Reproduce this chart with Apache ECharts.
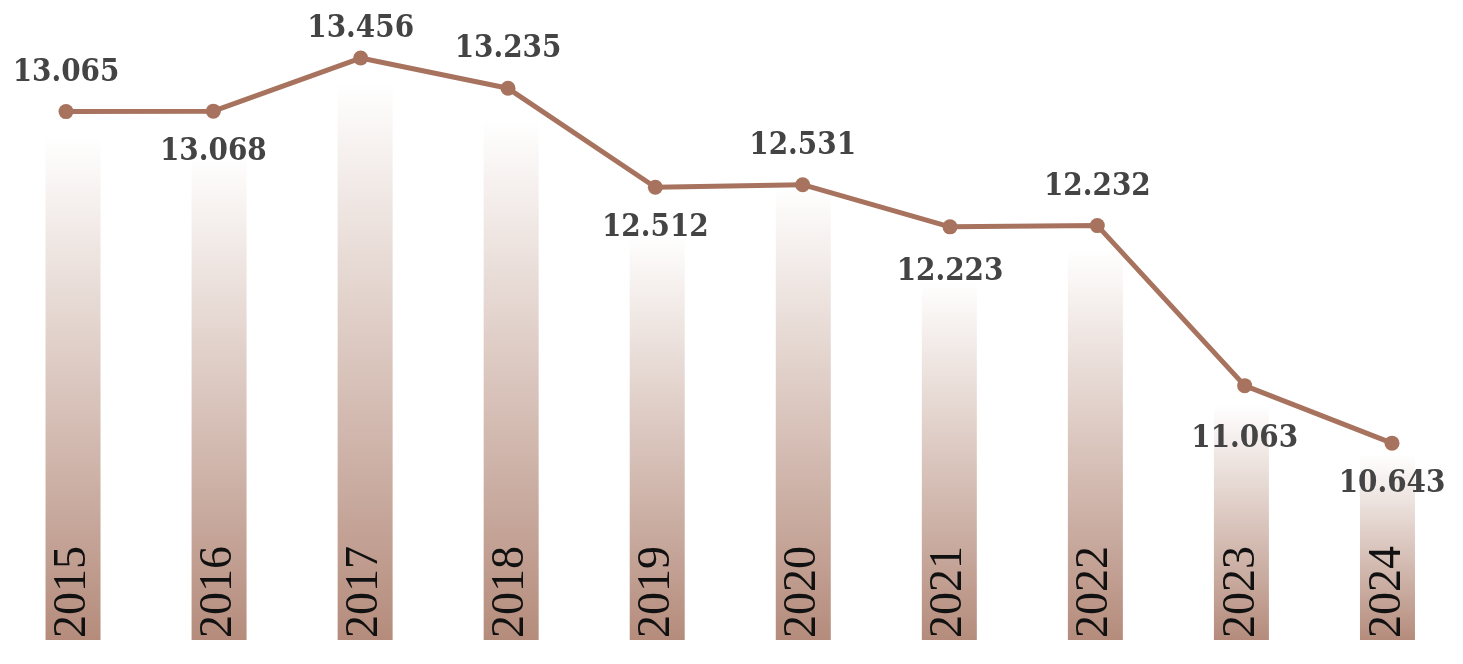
<!DOCTYPE html>
<html>
<head>
<meta charset="utf-8">
<script src="https://cdn.jsdelivr.net/npm/echarts@6/dist/echarts.min.js"></script>
<style>
  html, body { margin: 0; padding: 0; background: #fff; }
  #chart { width: 1463px; height: 664px; }
</style>
</head>
<body>
<div id="chart"></div>
<script>
// data
var years = ['2015', '2016', '2017', '2018', '2019', '2020', '2021', '2022', '2023', '2024'];
var values = [13.065, 13.068, 13.456, 13.235, 12.512, 12.531, 12.223, 12.232, 11.063, 10.643];
// bar heights as they look in the picture (same units, estimated)
var barValues = [13.06, 12.93, 13.46, 13.19, 12.35, 12.70, 12.00, 12.24, 11.10, 10.74];
// which labels sit above the point
var labelAbove = [true, false, true, true, false, true, false, true, false, false];

var brown = '#a8735e';

function labelDistance(i) {
  if (i === 2) return 6;   // top label kept inside the canvas
  if (i === 8) return 30;  // 2023 label sits lower
  if (i === 6) return 22;
  return labelAbove[i] ? 16 : 18;
}

var lineData = values.map(function (v, i) {
  return {
    value: v,
    label: { position: labelAbove[i] ? 'top' : 'bottom', distance: labelDistance(i) }
  };
});

var chart = echarts.init(document.getElementById('chart'));
chart.setOption({
  backgroundColor: '#fff',
  animation: false,
  grid: [
    { left: 0, right: 2.5, top: 20, bottom: 24 },
    { left: 66, right: 71, top: 20, bottom: 24 }
  ],
  xAxis: [
    { type: 'category', gridIndex: 0, data: years, show: false },
    { type: 'category', gridIndex: 1, data: years, show: false, boundaryGap: false }
  ],
  yAxis: [
    { type: 'value', gridIndex: 0, min: 9.387, max: 13.916, show: false },
    { type: 'value', gridIndex: 1, min: 9.205, max: 13.734, show: false }
  ],
  series: [
    {
      type: 'bar',
      xAxisIndex: 0,
      yAxisIndex: 0,
      data: barValues,
      barWidth: 55,
      itemStyle: {
        color: new echarts.graphic.LinearGradient(0, 0, 0, 1, [
          { offset: 0, color: 'rgba(181,140,124,0)' },
          { offset: 1, color: 'rgba(181,140,124,1)' }
        ])
      },
      label: {
        show: true,
        position: 'insideBottom',
        rotate: 90,
        align: 'left',
        verticalAlign: 'middle',
        distance: 2,
        formatter: '{b}',
        color: '#111',
        fontFamily: 'Liberation Serif',
        fontSize: 46
      }
    },
    {
      type: 'line',
      xAxisIndex: 1,
      yAxisIndex: 1,
      data: lineData,
      symbol: 'circle',
      symbolSize: 15,
      lineStyle: { color: brown, width: 5 },
      itemStyle: { color: brown },
      label: {
        show: true,
        color: '#444',
        fontFamily: 'DejaVu Serif Condensed',
        fontWeight: 'bold',
        fontSize: 31,
        formatter: function (p) { return p.value.toFixed(3); }
      }
    }
  ]
});
</script>
</body>
</html>
